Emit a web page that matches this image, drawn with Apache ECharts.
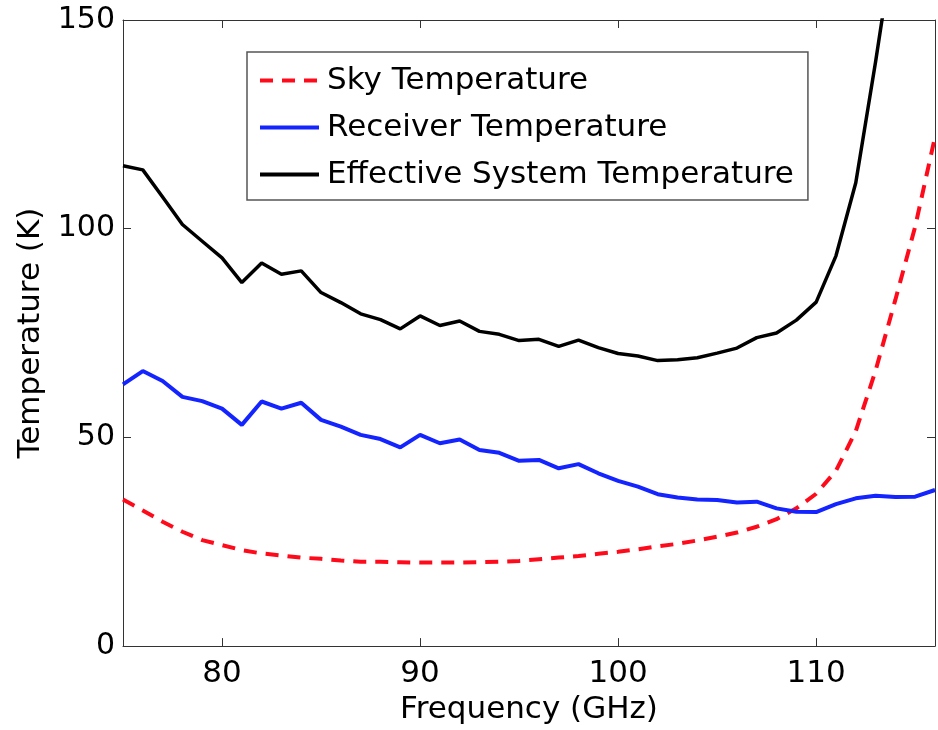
<!DOCTYPE html>
<html>
<head>
<meta charset="utf-8">
<script src="https://cdn.jsdelivr.net/npm/echarts@6/dist/echarts.min.js"></script>
<style>
  html, body { margin: 0; padding: 0; background: #fff; }
  #chart { width: 938px; height: 730px; }
</style>
</head>
<body>
<div id="chart"></div>
<script>
// frequency in GHz, one point per GHz
const freq = [75, 76, 77, 78, 79, 80, 81, 82, 83, 84, 85, 86, 87, 88, 89, 90, 91, 92, 93, 94, 95,
  96, 97, 98, 99, 100, 101, 102, 103, 104, 105, 106, 107, 108, 109, 110, 111, 112, 113, 114, 115, 116];

const skyTemp = [35.1, 32.5, 29.8, 27.4, 25.4, 24.2, 23.0, 22.2, 21.7, 21.2, 20.9, 20.5, 20.2, 20.2, 20.1, 20.0, 20.0, 20.0, 20.1, 20.2, 20.4,
  20.8, 21.2, 21.6, 22.1, 22.6, 23.2, 23.9, 24.5, 25.3, 26.2, 27.2, 28.6, 30.4, 33.0, 36.5, 42.0, 51.5, 66.0, 83.0, 100.5, 122.0];

const receiverTemp = [62.7, 65.9, 63.5, 59.7, 58.7, 56.9, 53.0, 58.6, 56.9, 58.3, 54.2, 52.6, 50.6, 49.6, 47.6, 50.6, 48.6, 49.5, 47.0, 46.3, 44.4,
  44.6, 42.6, 43.6, 41.4, 39.6, 38.2, 36.4, 35.6, 35.1, 35.0, 34.4, 34.6, 33.0, 32.2, 32.1, 34.0, 35.4, 36.0, 35.7, 35.8, 37.4];

const systemTemp = [115.1, 114.1, 107.6, 101.0, 97.0, 93.0, 87.1, 91.8, 89.1, 89.9, 84.7, 82.3, 79.6, 78.2, 76.0, 79.1, 76.8, 77.9, 75.4, 74.7, 73.2,
  73.5, 71.8, 73.3, 71.5, 70.1, 69.5, 68.4, 68.6, 69.1, 70.2, 71.4, 73.9, 75.0, 78.1, 82.4, 93.5, 111.0, 140.0, 171.0, 210.0, 260.0];

const xTicks = [80, 90, 100, 110];
const yTicks = [0, 50, 100, 150];

const pairs = ys => freq.map((f, i) => [f, ys[i]]);

const chart = echarts.init(document.getElementById('chart'));

const fontFamily = 'DejaVu Sans, Liberation Sans, sans-serif';

const xAxisBase = {
  type: 'value',
  min: 75,
  max: 116,
  splitLine: { show: false },
  axisLine: { show: true, onZero: false, lineStyle: { color: '#333', width: 1 } },
  axisTick: { show: true, inside: true, length: 8, customValues: xTicks, lineStyle: { color: '#333' } },
};

const yAxisBase = {
  type: 'value',
  min: 0,
  max: 150,
  interval: 50,
  splitLine: { show: false },
  axisLine: { show: true, onZero: false, lineStyle: { color: '#333', width: 1 } },
  axisTick: { show: true, inside: true, length: 8, lineStyle: { color: '#333' } },
};

chart.setOption({
  animation: false,
  backgroundColor: '#fff',
  textStyle: { fontFamily: fontFamily, color: '#000' },
  grid: { left: 123, right: 3, top: 20, bottom: 80, containLabel: false },
  legend: {
    orient: 'vertical',
    left: 247,
    top: 52,
    padding: [13, 14, 10, 11],
    itemGap: 16,
    itemWidth: 59,
    itemHeight: 20,
    borderColor: '#555',
    borderWidth: 1.5,
    backgroundColor: '#fff',
    itemStyle: { opacity: 0 },
    lineStyle: { width: 4 },
    textStyle: { fontSize: 31, lineHeight: 31, color: '#000', fontFamily: fontFamily, padding: [0, 0, 0, 3] },
    data: ['Sky Temperature', 'Receiver Temperature', 'Effective System Temperature'],
  },
  xAxis: [
    Object.assign({}, xAxisBase, {
      position: 'bottom',
      name: 'Frequency (GHz)',
      nameLocation: 'middle',
      nameGap: 46,
      nameTextStyle: { fontSize: 31, color: '#000' },
      axisLabel: { show: true, customValues: xTicks, fontSize: 31, color: '#000', margin: 12 },
    }),
    Object.assign({}, xAxisBase, {
      position: 'top',
      axisLabel: { show: false },
    }),
  ],
  yAxis: [
    Object.assign({}, yAxisBase, {
      position: 'left',
      name: 'Temperature (K)',
      nameLocation: 'middle',
      nameGap: 74,
      nameTextStyle: { fontSize: 31, color: '#000' },
      axisLabel: { show: true, fontSize: 30, color: '#000', margin: 8 },
    }),
    Object.assign({}, yAxisBase, {
      position: 'right',
      axisLabel: { show: false },
    }),
  ],
  series: [
    {
      name: 'Sky Temperature',
      type: 'line',
      showSymbol: false,
      symbol: 'none',
      clip: true,
      color: '#ff0a1a',
      lineStyle: { color: '#ff0a1a', width: 4, type: [13, 9] },
      data: pairs(skyTemp),
    },
    {
      name: 'Receiver Temperature',
      type: 'line',
      showSymbol: false,
      symbol: 'none',
      clip: true,
      color: '#1424ff',
      lineStyle: { color: '#1424ff', width: 4 },
      data: pairs(receiverTemp),
    },
    {
      name: 'Effective System Temperature',
      type: 'line',
      showSymbol: false,
      symbol: 'none',
      clip: true,
      color: '#000',
      lineStyle: { color: '#000', width: 3.5 },
      data: pairs(systemTemp),
    },
  ],
});
</script>
</body>
</html>
